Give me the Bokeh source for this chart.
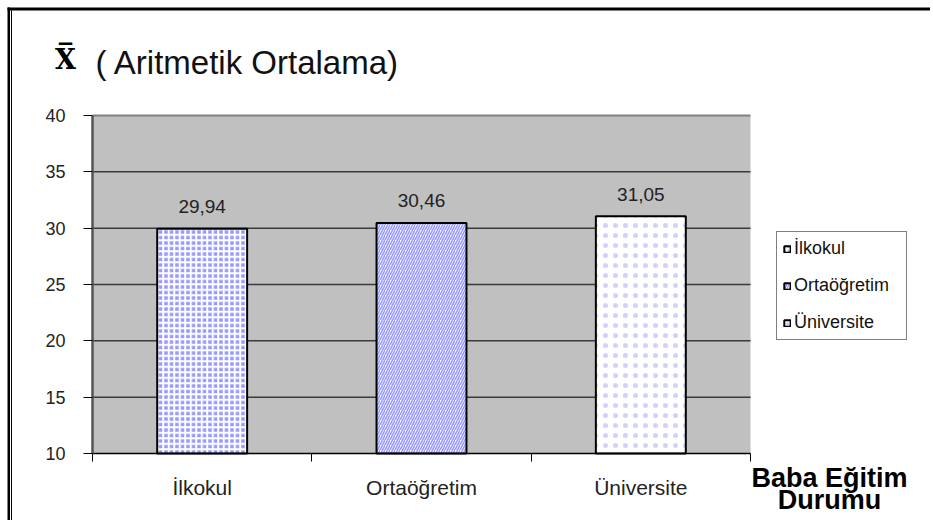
from bokeh.plotting import figure
from bokeh.models import Range1d, FixedTicker, Legend, LegendItem, Label, BoxAnnotation
from bokeh.core.properties import value
from bokeh.embed import file_html
from bokeh.resources import INLINE

# ---- data ----
categories = ["İlkokul", "Ortaöğretim", "Üniversite"]
values = [29.94, 30.46, 31.05]
value_labels = ["29,94", "30,46", "31,05"]
y_ticks = [10, 15, 20, 25, 30, 35, 40]
title_symbol = "X\u0305"
title_text = "( Aritmetik Ortalama)"
xlabel_lines = ["Baba Eğitim", "Durumu"]

# ---- layout constants (pixels) ----
W, H = 930, 520
PL, PR, PT, PB = 92, 750, 115, 453   # plot area edges on the canvas
FONT = "Liberation Sans"

n = len(categories)
xs = [i + 0.5 for i in range(n)]
bounds = [i for i in range(n + 1)]
y0, y1 = y_ticks[0], y_ticks[-1]
kx = (PR - PL) / n
ky = (PB - PT) / (y1 - y0)
x_range = Range1d(-PL / kx, (W - PL) / kx)
y_range = Range1d(y0 - (H - PB) / ky, y1 + PT / ky)

p = figure(width=W, height=H, output_backend="svg", toolbar_location=None,
           x_range=x_range, y_range=y_range,
           min_border=0, min_border_left=0, min_border_right=0, min_border_top=0, min_border_bottom=0)
p.title.visible = False
p.background_fill_color = "white"
p.border_fill_color = "white"
p.outline_line_color = None
p.grid.visible = False

# gray plot area and grid lines
p.quad(left=0, right=n, bottom=y0, top=y1, fill_color="#c0c0c0", line_color=None)
p.segment(x0=[0] * (len(y_ticks) - 2), x1=[n] * (len(y_ticks) - 2),
          y0=y_ticks[1:-1], y1=y_ticks[1:-1], line_color="#3a3a3a", line_width=1.5)
p.segment(x0=[0], x1=[n], y0=[y1], y1=[y1], line_color="#808080", line_width=2)

# y axis
p.yaxis.fixed_location = 0
p.yaxis.bounds = (y0, y1)
p.yaxis.ticker = FixedTicker(ticks=y_ticks)
p.yaxis.axis_line_color = "#555555"
p.yaxis.axis_line_width = 2.5
p.yaxis.major_tick_line_color = "black"
p.yaxis.major_tick_out = 9
p.yaxis.major_tick_in = 0
p.yaxis.minor_tick_line_color = None
p.yaxis.major_label_text_font = FONT
p.yaxis.major_label_text_font_size = "18px"
p.yaxis.major_label_text_color = "#222222"
p.yaxis.major_label_standoff = 18

# x axis
p.xaxis.fixed_location = y0
p.xaxis.bounds = (0, n)
p.xaxis.ticker = FixedTicker(ticks=xs, minor_ticks=bounds)
p.xaxis.major_label_overrides = {x: c for x, c in zip(xs, categories)}
p.xaxis.axis_line_color = "black"
p.xaxis.axis_line_width = 1.5
p.xaxis.major_tick_line_color = None
p.xaxis.major_tick_out = 0
p.xaxis.major_tick_in = 0
p.xaxis.minor_tick_line_color = "black"
p.xaxis.minor_tick_out = 8
p.xaxis.minor_tick_in = 0
p.xaxis.major_label_text_font = FONT
p.xaxis.major_label_text_font_size = "21px"
p.xaxis.major_label_text_color = "#222222"
p.xaxis.major_label_standoff = 14

styles = [
    dict(fill_color="#9999ff", hatch_pattern="cross", hatch_color="white", hatch_scale=5.5, hatch_weight=2),
    dict(fill_color="white", hatch_pattern="right_diagonal_line", hatch_color="#9999ff", hatch_scale=5, hatch_weight=1.6),
    dict(fill_color="white", hatch_pattern="dot", hatch_color="#9999ff", hatch_scale=10, hatch_weight=0.5,
         hatch_alpha=0.45),
]

items = []
for i, c in enumerate(categories):
    r = p.vbar(x=[xs[i]], top=[values[i]], bottom=y0, width=0.41,
               line_color="black", line_width=2, **styles[i])
    items.append(LegendItem(label=value(c), renderers=[r]))

p.text(x=xs, y=values, text=value_labels, y_offset=-22, text_align="center",
       text_baseline="alphabetic", text_font=value(FONT), text_font_size="19px", text_color="#222222")

legend = Legend(items=items, location=(776, H - 340), orientation="vertical")
legend.border_line_color = "black"
legend.border_line_width = 1
legend.background_fill_color = "white"
legend.label_text_font = FONT
legend.label_text_font_size = "18px"
legend.label_text_color = "#111111"
legend.glyph_width = 8
legend.glyph_height = 8
legend.label_standoff = 3
legend.label_width = 106
legend.padding = 6
legend.spacing = 16
legend.margin = 0
p.add_layout(legend)

# title and axis caption (canvas units: from top-left)
p.add_layout(Label(x=65, y=59, x_units="canvas", y_units="canvas", text=title_symbol,
                   text_font="DejaVu Serif", text_font_style="bold", text_font_size="27px",
                   text_color="black", text_align="center", text_baseline="alphabetic"))
p.add_layout(Label(x=95, y=61.5, x_units="canvas", y_units="canvas", text=title_text,
                   text_font=FONT, text_font_size="33px", text_color="#111111",
                   text_baseline="alphabetic"))
p.add_layout(Label(x=829, y=477, x_units="canvas", y_units="canvas", text=xlabel_lines[0],
                   text_font=FONT, text_font_style="bold", text_font_size="27px",
                   text_color="black", text_align="center", text_baseline="alphabetic"))
p.add_layout(Label(x=829, y=499, x_units="canvas", y_units="canvas", text=xlabel_lines[1],
                   text_font=FONT, text_font_style="bold", text_font_size="27px",
                   text_color="black", text_align="center", text_baseline="alphabetic"))

# page frame lines (screen units: from bottom-left of the canvas)
box_kw = dict(left_units="screen", right_units="screen", top_units="screen", bottom_units="screen",
              fill_color="black", fill_alpha=1.0, line_color=None)
p.add_layout(BoxAnnotation(left=7, right=W, bottom=H - 10, top=H - 7, **box_kw))
p.add_layout(BoxAnnotation(left=7, right=9.5, bottom=0, top=H - 7, **box_kw))
p.add_layout(BoxAnnotation(left=10.5, right=11.5, bottom=0, top=H - 10, **box_kw))

open("out.html", "w").write(file_html(p, INLINE))
